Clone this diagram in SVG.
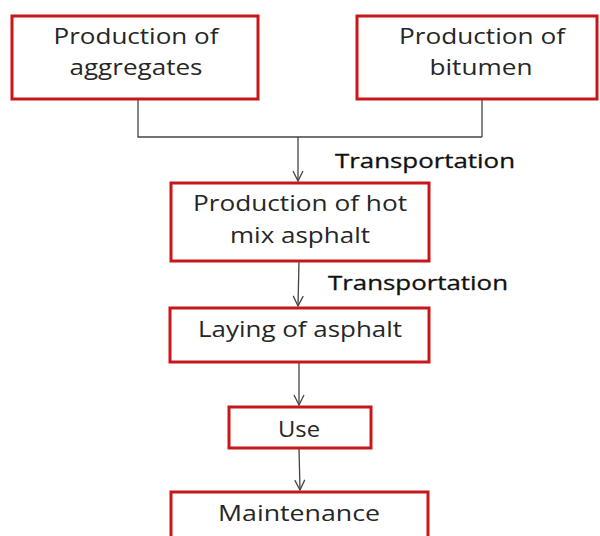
<svg xmlns="http://www.w3.org/2000/svg" width="600" height="536" viewBox="0 0 600 536">
<style>
.box{fill:#fff;stroke:#c8161d;stroke-width:3}
.t{font-family:"Open Sans","Liberation Sans",sans-serif;font-size:21px;fill:#262626;text-anchor:middle}
.lbl{font-family:"Open Sans","Liberation Sans",sans-serif;font-size:20px;fill:#111;stroke:#111;stroke-width:0.3;text-anchor:start}
.c{fill:none;stroke:#444;stroke-width:1.3}
</style>
<defs>
<marker id="arr" viewBox="0 0 12 12" refX="11" refY="6" markerWidth="12" markerHeight="12" markerUnits="userSpaceOnUse" orient="auto">
<path d="M1,1 L11,6 L1,11" fill="none" stroke="#444" stroke-width="1.3"/>
</marker>
</defs>
<rect width="600" height="536" fill="#fff"/>
<g id="connectors">
<polyline class="c" points="138,99 138,137 482,137"/>
<line class="c" x1="482" y1="99" x2="482" y2="137"/>
<line class="c" x1="298" y1="137" x2="298" y2="181" marker-end="url(#arr)"/>
<line class="c" x1="299" y1="261" x2="298" y2="306" marker-end="url(#arr)"/>
<line class="c" x1="299" y1="362" x2="299" y2="405" marker-end="url(#arr)"/>
<line class="c" x1="299" y1="448" x2="300" y2="490" marker-end="url(#arr)"/>
<text class="lbl" x="335" y="168" textLength="180" lengthAdjust="spacingAndGlyphs">Transportation</text>
<text class="lbl" x="328" y="290" textLength="180" lengthAdjust="spacingAndGlyphs">Transportation</text>
</g>
<g id="aggregates">
<rect class="box" x="12" y="16" width="246" height="83"/>
<text class="t" x="136" y="44" textLength="165" lengthAdjust="spacingAndGlyphs">Production of</text>
<text class="t" x="136" y="75" textLength="133" lengthAdjust="spacingAndGlyphs">aggregates</text>
</g>
<g id="bitumen">
<rect class="box" x="357" y="16" width="240" height="83"/>
<text class="t" x="482" y="44" textLength="166" lengthAdjust="spacingAndGlyphs">Production of</text>
<text class="t" x="481" y="75" textLength="103" lengthAdjust="spacingAndGlyphs">bitumen</text>
</g>
<g id="hotmix">
<rect class="box" x="171" y="183" width="258" height="78"/>
<text class="t" x="300" y="211" textLength="214" lengthAdjust="spacingAndGlyphs">Production of hot</text>
<text class="t" x="300" y="243" textLength="140" lengthAdjust="spacingAndGlyphs">mix asphalt</text>
</g>
<g id="laying">
<rect class="box" x="170" y="308" width="259" height="54"/>
<text class="t" x="300" y="337" textLength="204" lengthAdjust="spacingAndGlyphs">Laying of asphalt</text>
</g>
<g id="use">
<rect class="box" x="229" y="407" width="142" height="41"/>
<text class="t" x="299" y="437" textLength="42" lengthAdjust="spacingAndGlyphs">Use</text>
</g>
<g id="maintenance">
<rect class="box" x="171" y="492" width="257" height="60"/>
<text class="t" x="299" y="521" textLength="162" lengthAdjust="spacingAndGlyphs">Maintenance</text>
</g>
</svg>
